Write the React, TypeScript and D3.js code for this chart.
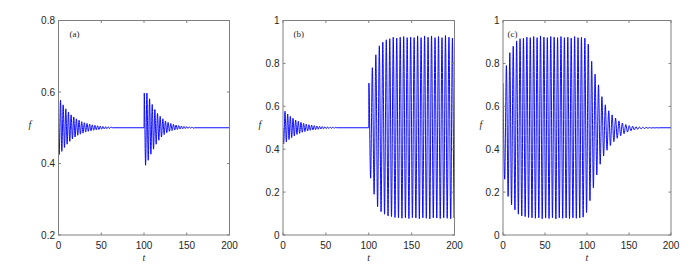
import React from "react";
import * as d3 from "d3";

// ---- data ----
const xTicks = [0, 50, 100, 150, 200];
const yTicksA = [0.2, 0.4, 0.6, 0.8];
const yTicksBC = [0, 0.2, 0.4, 0.6, 0.8, 1];
const panelLabels = ["(a)", "(b)", "(c)"];

// damped oscillation after start (t = 0), alternating trough/peak extrema
const decayStart = [0.425, 0.577, 0.434, 0.564, 0.445, 0.553, 0.454, 0.544, 0.462, 0.536, 0.469, 0.530, 0.474, 0.525, 0.479, 0.521, 0.482, 0.517, 0.485, 0.514, 0.488, 0.512, 0.490, 0.510, 0.4915, 0.508, 0.493, 0.5066, 0.4942, 0.5055, 0.4952, 0.5045, 0.496, 0.5037, 0.4967, 0.503, 0.4973, 0.5025, 0.4978, 0.502];
// damped oscillation after kick at t = 100 in (a), alternating peak/trough
const decayKick = [0.597, 0.395, 0.597, 0.409, 0.581, 0.426, 0.565, 0.440, 0.551, 0.454, 0.540, 0.465, 0.532, 0.474, 0.525, 0.481, 0.519, 0.486, 0.515, 0.490, 0.512, 0.492, 0.5095, 0.494, 0.5075, 0.4953, 0.506, 0.4963, 0.5048, 0.497, 0.5038, 0.4976, 0.503, 0.4981, 0.5024, 0.4985, 0.502, 0.4988];
// growth to limit cycle after kick at t = 100 in (b), alternating peak/trough
const growthKick = [0.708, 0.265, 0.78, 0.19, 0.84, 0.132, 0.882, 0.109, 0.899, 0.097, 0.91, 0.089, 0.915, 0.086, 0.922, 0.082, 0.918, 0.08, 0.922, 0.078, 0.925, 0.08, 0.92, 0.077, 0.922, 0.081, 0.92, 0.079, 0.928, 0.076, 0.92, 0.08, 0.928, 0.078, 0.922, 0.075, 0.928, 0.08, 0.92, 0.079, 0.925, 0.077, 0.92, 0.08, 0.93, 0.078, 0.922, 0.076, 0.918, 0.08, 0.922];
// limit cycle from t = 0, then decay after t = 100 in (c), alternating peak/trough
const cycleThenDecay = [0.708, 0.26, 0.79, 0.18, 0.85, 0.14, 0.88, 0.117, 0.905, 0.097, 0.915, 0.089, 0.918, 0.086, 0.922, 0.082, 0.92, 0.08, 0.925, 0.078, 0.92, 0.08, 0.928, 0.076, 0.922, 0.079, 0.92, 0.077, 0.925, 0.08, 0.922, 0.075, 0.92, 0.08, 0.925, 0.078, 0.92, 0.079, 0.922, 0.077, 0.918, 0.08, 0.925, 0.078, 0.92, 0.08, 0.922, 0.083, 0.918, 0.105, 0.89, 0.16, 0.81, 0.22, 0.75, 0.28, 0.70, 0.33, 0.645, 0.368, 0.607, 0.395, 0.579, 0.417, 0.56, 0.435, 0.545, 0.451, 0.532, 0.463, 0.522, 0.472, 0.515, 0.48, 0.51, 0.486, 0.507, 0.49, 0.505, 0.493, 0.5035, 0.495, 0.5025, 0.4965, 0.5018, 0.4975, 0.5012, 0.4983, 0.5008, 0.4988, 0.5005, 0.4992];

const EQ = 0.5;
const HALF_DAMPED = 1.55; // half period of damped oscillation
const HALF_CYCLE = 2.03; // half period of limit cycle

type Pt = [number, number];
function oscillation(t0: number, half: number, vals: number[]): Pt[] {
  return vals.map((v, i) => [t0 + i * half, v] as Pt);
}

const seriesA: Pt[] = [
  [0, EQ],
  ...oscillation(0.8, HALF_DAMPED, decayStart),
  [0.8 + decayStart.length * HALF_DAMPED, EQ],
  [100, EQ],
  ...oscillation(100.3, HALF_DAMPED, decayKick),
  [100.3 + decayKick.length * HALF_DAMPED, EQ],
  [200, EQ],
];
const seriesB: Pt[] = [
  [0, EQ],
  ...oscillation(0.8, HALF_DAMPED, decayStart),
  [0.8 + decayStart.length * HALF_DAMPED, EQ],
  [100, EQ],
  ...oscillation(100.15, HALF_CYCLE, growthKick),
];
const seriesC: Pt[] = [
  ...oscillation(0, HALF_CYCLE, cycleThenDecay),
  [cycleThenDecay.length * HALF_CYCLE, EQ],
  [200, EQ],
];

const panels = [
  { label: panelLabels[0], data: seriesA, yDomain: [0.2, 0.8], yTicks: yTicksA, x0: 58.5, x1: 229.5, yl: 30, labX: 69.5 },
  { label: panelLabels[1], data: seriesB, yDomain: [0, 1], yTicks: yTicksBC, x0: 283, x1: 454.5, yl: 260, labX: 293.5 },
  { label: panelLabels[2], data: seriesC, yDomain: [0, 1], yTicks: yTicksBC, x0: 503, x1: 671, yl: 481, labX: 507.5 },
];

const TOP = 20.5;
const BOT = 235;
const AXIS = "#808080";
const TEXT = "#262626";
const TL = 2.5;

function Panel({ p, idx }: { p: (typeof panels)[number]; idx: number }) {
  const x = d3.scaleLinear().domain([0, 200]).range([p.x0, p.x1]);
  const y = d3.scaleLinear().domain(p.yDomain).range([BOT, TOP]);
  const line = d3
    .line<Pt>()
    .x((d) => x(d[0]))
    .y((d) => y(d[1]))
    .curve(d3.curveMonotoneX);
  const clipId = `clip${idx}`;
  return (
    <g>
      <defs>
        <clipPath id={clipId}>
          <rect x={p.x0} y={TOP} width={p.x1 - p.x0} height={BOT - TOP} />
        </clipPath>
      </defs>
      <path d={line(p.data) || ""} fill="none" stroke="#0000ff" strokeWidth={0.95} clipPath={`url(#${clipId})`} />
      <rect x={p.x0} y={TOP} width={p.x1 - p.x0} height={BOT - TOP} fill="none" stroke={AXIS} strokeWidth={1} />
      {xTicks.map((t) => (
        <g key={"x" + t}>
          <line x1={x(t)} x2={x(t)} y1={BOT} y2={BOT - TL} stroke={AXIS} />
          <line x1={x(t)} x2={x(t)} y1={TOP} y2={TOP + TL} stroke={AXIS} />
          <text x={x(t)} y={248.5} textAnchor="middle" fontSize={10} fill={TEXT} fontFamily="Liberation Sans, Arial, sans-serif">
            {t}
          </text>
        </g>
      ))}
      {p.yTicks.map((v) => (
        <g key={"y" + v}>
          <line x1={p.x0} x2={p.x0 + TL} y1={y(v)} y2={y(v)} stroke={AXIS} />
          <line x1={p.x1} x2={p.x1 - TL} y1={y(v)} y2={y(v)} stroke={AXIS} />
          <text x={p.x0 - 3.5} y={y(v) + 3.5} textAnchor="end" fontSize={10} fill={TEXT} fontFamily="Liberation Sans, Arial, sans-serif">
            {String(v)}
          </text>
        </g>
      ))}
      <text x={p.labX} y={36.5} fontSize={9} fill={TEXT} fontFamily="Liberation Serif, Times New Roman, serif">
        {p.label}
      </text>
      <text x={p.yl} y={128} fontSize={10} fontStyle="italic" fill={TEXT} fontFamily="Liberation Serif, Times New Roman, serif" textAnchor="middle">
        f
      </text>
      <text x={(p.x0 + p.x1) / 2} y={261} fontSize={10} fontStyle="italic" fill={TEXT} fontFamily="Liberation Serif, Times New Roman, serif" textAnchor="middle">
        t
      </text>
    </g>
  );
}

export default function App() {
  return (
    <svg width={692} height={274} style={{ position: "absolute", left: 0, top: 0, background: "#fff" }}>
      {panels.map((p, i) => (
        <Panel key={i} p={p} idx={i} />
      ))}
    </svg>
  );
}
